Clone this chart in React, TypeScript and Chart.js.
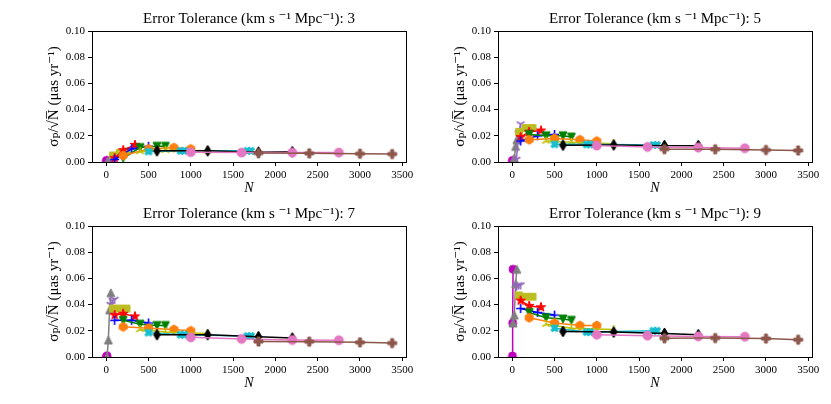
import { useEffect, useRef } from 'react';
import { Chart, registerables } from 'chart.js';

Chart.register(...registerables);

// axes
const xTicks = [0, 500, 1000, 1500, 2000, 2500, 3000, 3500];
const yTicks = [0, 0.02, 0.04, 0.06, 0.08, 0.1];
const tolerances = [3, 5, 7, 9];

// number of sources N in each run
const nMagenta = [2, 5, 10];
const nGray = [10, 25, 40, 55];
const nPurple = [50, 75, 100];
const nOlive = [80, 160, 240];
const nRed = [100, 200, 340];
const nBlue = [100, 300, 500];
const nGreen = [200, 400, 600, 700];
const nOrange = [200, 500, 800, 1000];
const nYellow = [400, 700, 1200];
const nCyan = [500, 880, 920, 1670, 1710];
const nBlack = [600, 1200, 1800, 2200];
const nPink = [1000, 1600, 2200, 2750];
const nBrown = [1800, 2400, 3000, 3380];

// sigma_p / sqrt(N), one row per error tolerance (3, 5, 7, 9)
const magenta = [
  [0.001, 0.001, 0.001],
  [0.001, 0.001, 0.001],
  [0.0, 0.0, 0.001],
  [0.0008, 0.026, 0.067],
];
const gray = [
  [0.0, 0.001, 0.001, 0.002],
  [0.0, 0.003, 0.012, 0.017],
  [0.0, 0.013, 0.036, 0.049],
  [0.026, 0.032, 0.056, 0.067],
];
const purple = [
  [0.001, 0.002, 0.002],
  [0.002, 0.022, 0.029],
  [0.04, 0.043, 0.044],
  [0.054, 0.055, 0.055],
];
const olive = [
  [0.005, 0.007, 0.008],
  [0.023, 0.026, 0.026],
  [0.037, 0.037, 0.037],
  [0.047, 0.046, 0.046],
];
const red = [
  [0.003, 0.009, 0.013],
  [0.019, 0.023, 0.024],
  [0.032, 0.033, 0.031],
  [0.043, 0.039, 0.038],
];
const blue = [
  [0.002, 0.01, 0.012],
  [0.016, 0.02, 0.021],
  [0.028, 0.028, 0.026],
  [0.037, 0.034, 0.032],
];
const green = [
  [0.003, 0.011, 0.012, 0.012],
  [0.021, 0.02, 0.02, 0.019],
  [0.028, 0.025, 0.024, 0.024],
  [0.034, 0.03, 0.029, 0.028],
];
const orange = [
  [0.005, 0.01, 0.011, 0.01],
  [0.017, 0.018, 0.017, 0.016],
  [0.023, 0.022, 0.021, 0.02],
  [0.03, 0.026, 0.024, 0.024],
];
const yellow = [
  [0.008, 0.009, 0.0085],
  [0.016, 0.015, 0.014],
  [0.021, 0.019, 0.018],
  [0.025, 0.022, 0.021],
];
const cyan = [
  [0.008, 0.0085, 0.0085, 0.0085, 0.0085],
  [0.0135, 0.0135, 0.0135, 0.013, 0.013],
  [0.0186, 0.017, 0.017, 0.016, 0.016],
  [0.022, 0.019, 0.019, 0.02, 0.02],
];
const black = [
  [0.0085, 0.0085, 0.0075, 0.0078],
  [0.0128, 0.013, 0.0125, 0.0125],
  [0.017, 0.017, 0.0155, 0.0145],
  [0.0195, 0.019, 0.018, 0.017],
];
const pink = [
  [0.0075, 0.0072, 0.0072, 0.0072],
  [0.0125, 0.0115, 0.011, 0.0105],
  [0.015, 0.0138, 0.013, 0.0128],
  [0.017, 0.0163, 0.0157, 0.0155],
];
const brown = [
  [0.0068, 0.0066, 0.0063, 0.0061],
  [0.0098, 0.0097, 0.0092, 0.0088],
  [0.0118, 0.0117, 0.0112, 0.0106],
  [0.0143, 0.0145, 0.0141, 0.0132],
];

type Shape = 'o' | '^' | 'v' | 's' | '*' | '+' | 'h' | '1' | '2' | 'X' | 'd' | 'P';

// plotting order: first entry ends up at the bottom
const series: { n: number[]; y: number[][]; color: string; shape: Shape; size: number }[] = [
  { n: nMagenta, y: magenta, color: '#bf00bf', shape: 'o', size: 8 },
  { n: nGray, y: gray, color: '#7f7f7f', shape: '^', size: 8 },
  { n: nPurple, y: purple, color: '#9467bd', shape: '1', size: 9 },
  { n: nOlive, y: olive, color: '#bcbd22', shape: 's', size: 8 },
  { n: nRed, y: red, color: '#ff0000', shape: '*', size: 10 },
  { n: nBlue, y: blue, color: '#0000ff', shape: '+', size: 9 },
  { n: nGreen, y: green, color: '#008000', shape: 'v', size: 8 },
  { n: nOrange, y: orange, color: '#ff7f0e', shape: 'h', size: 9 },
  { n: nYellow, y: yellow, color: '#bfbf00', shape: '2', size: 9 },
  { n: nCyan, y: cyan, color: '#17becf', shape: 'X', size: 8 },
  { n: nBlack, y: black, color: '#000000', shape: 'd', size: 11 },
  { n: nPink, y: pink, color: '#e377c2', shape: 'o', size: 9 },
  { n: nBrown, y: brown, color: '#8c564b', shape: 'P', size: 9 },
];

const serif = '"Liberation Serif", "DejaVu Serif", serif';

function makeMarker(shape: Shape, color: string, size: number): HTMLCanvasElement {
  const dim = Math.ceil(size + 6);
  const cv = document.createElement('canvas');
  cv.width = dim;
  cv.height = dim;
  const g = cv.getContext('2d') as CanvasRenderingContext2D;
  g.translate(dim / 2, dim / 2);
  g.fillStyle = color;
  g.strokeStyle = color;
  g.lineWidth = 1;
  const r = size / 2;
  const poly = (pts: number[][]) => {
    g.beginPath();
    pts.forEach(([px, py], i) => (i ? g.lineTo(px * r, py * r) : g.moveTo(px * r, py * r)));
    g.closePath();
    g.fill();
    g.stroke();
  };
  const spokes = (pts: number[][]) => {
    g.beginPath();
    pts.forEach(([px, py]) => {
      g.moveTo(0, 0);
      g.lineTo(px * r, py * r);
    });
    g.lineWidth = 1.6;
    g.stroke();
  };
  const plus = [
    [-1, -3], [1, -3], [1, -1], [3, -1], [3, 1], [1, 1],
    [1, 3], [-1, 3], [-1, 1], [-3, 1], [-3, -1], [-1, -1],
  ].map(([a, b]) => [a / 3, b / 3]);
  switch (shape) {
    case 'o':
      g.beginPath();
      g.arc(0, 0, r, 0, Math.PI * 2);
      g.fill();
      g.stroke();
      break;
    case '^':
      poly([[0, -1], [1, 1], [-1, 1]]);
      break;
    case 'v':
      poly([[0, 1], [1, -1], [-1, -1]]);
      break;
    case 's':
      poly([[-0.85, -0.85], [0.85, -0.85], [0.85, 0.85], [-0.85, 0.85]]);
      break;
    case 'd':
      poly([[0, -1], [0.6, 0], [0, 1], [-0.6, 0]]);
      break;
    case 'h':
      poly([0, 1, 2, 3, 4, 5].map((k) => [Math.sin((k * Math.PI) / 3), -Math.cos((k * Math.PI) / 3)]));
      break;
    case '*':
      poly(
        [...Array(10).keys()].map((k) => {
          const rr = k % 2 ? 0.381966 : 1;
          const a = (k * Math.PI) / 5;
          return [rr * Math.sin(a), -rr * Math.cos(a)];
        }),
      );
      break;
    case 'P':
      poly(plus);
      break;
    case 'X':
      poly(plus.map(([a, b]) => [(a - b) * Math.SQRT1_2, (a + b) * Math.SQRT1_2]));
      break;
    case '+':
      spokes([[1, 0], [-1, 0], [0, 1], [0, -1]]);
      break;
    case '1':
      spokes([[0, 1], [0.866, -0.5], [-0.866, -0.5]]);
      break;
    case '2':
      spokes([[0, -1], [0.866, 0.5], [-0.866, 0.5]]);
      break;
  }
  return cv;
}

const W = 420;
const H = 202;

function Panel({ index, left, top }: { index: number; left: number; top: number }) {
  const canvasRef = useRef<HTMLCanvasElement>(null);

  useEffect(() => {
    if (!canvasRef.current) return;
    const ctx = canvasRef.current.getContext('2d');
    if (!ctx) return;

    const title = `Error Tolerance (km s \u207b\u00b9 Mpc\u207b\u00b9): ${tolerances[index]}`;

    const datasets = series
      .map((s) => ({
        data: s.n.map((n, i) => ({ x: n, y: s.y[index][i] })),
        borderColor: s.color,
        backgroundColor: s.color,
        borderWidth: 1.5,
        pointStyle: makeMarker(s.shape, s.color, s.size),
        pointRadius: 4,
        tension: 0,
        clip: 0,
      }))
      .reverse();

    const framePlugin = {
      id: 'frame',
      afterDraw(chart: Chart) {
        const { ctx: c, chartArea: a } = chart;
        c.save();
        c.strokeStyle = '#000';
        c.lineWidth = 1;
        c.strokeRect(Math.round(a.left) + 0.5, Math.round(a.top) + 0.5, a.right - a.left, a.bottom - a.top);
        c.fillStyle = '#000';
        c.font = `15px ${serif}`;
        c.textAlign = 'center';
        c.textBaseline = 'middle';
        c.fillText(title, (a.left + a.right) / 2, a.top - 12);
        c.restore();
      },
    };

    const chart = new Chart(ctx, {
      type: 'line',
      data: { datasets },
      plugins: [framePlugin],
      options: {
        animation: false,
        responsive: false,
        layout: { padding: { left: 0, right: W - 406, top: 31, bottom: 0 } },
        plugins: {
          legend: { display: false },
          tooltip: { enabled: false },
        },
        scales: {
          x: {
            type: 'linear',
            min: -168,
            max: 3544,
            afterBuildTicks: (scale) => {
              scale.ticks = xTicks.map((value) => ({ value }));
            },
            afterFit: (scale) => {
              scale.height = H - 162;
            },
            ticks: {
              color: '#000',
              font: { family: serif, size: 11 },
              padding: 3,
              maxRotation: 0,
              callback: (v) => String(v),
            },
            grid: { drawOnChartArea: false, color: '#000', tickLength: 4 },
            border: { color: '#000' },
            title: {
              display: true,
              text: 'N',
              color: '#000',
              font: { family: serif, size: 14, style: 'italic' },
              padding: { top: 0, bottom: 5 },
            },
          },
          y: {
            type: 'linear',
            min: 0,
            max: 0.1,
            afterBuildTicks: (scale) => {
              scale.ticks = yTicks.map((value) => ({ value }));
            },
            afterFit: (scale) => {
              scale.width = 92;
            },
            ticks: {
              color: '#000',
              font: { family: serif, size: 11 },
              padding: 3,
              callback: (v) => Number(v).toFixed(2),
            },
            grid: { drawOnChartArea: false, color: '#000', tickLength: 4 },
            border: { color: '#000' },
            title: {
              display: true,
              text: 'σₚ/√N̅ (μas yr⁻¹)',
              color: '#000',
              font: { family: serif, size: 15 },
              padding: { top: 45, bottom: 0 },
            },
          },
        },
      },
    });

    return () => {
      chart.destroy();
    };
  }, [index]);

  return <canvas ref={canvasRef} width={W} height={H} style={{ position: 'absolute', left, top }} />;
}

export default function App() {
  const spots = [
    [0, 0],
    [406, 0],
    [0, 195],
    [406, 195],
  ];
  return (
    <div style={{ position: 'absolute', left: 0, top: 0, width: 831, height: 404, background: '#fff' }}>
      {spots.map(([l, t], i) => (
        <Panel key={i} index={i} left={l} top={t} />
      ))}
    </div>
  );
}
